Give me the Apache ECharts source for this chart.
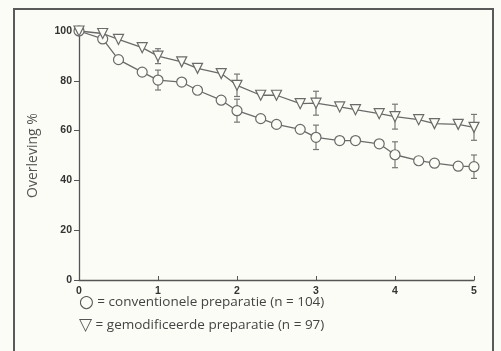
<!DOCTYPE html>
<html>
<head>
<meta charset="utf-8">
<script src="https://cdn.jsdelivr.net/npm/echarts@6/dist/echarts.min.js"></script>
<style>
html,body{margin:0;padding:0;background:#fcfcf6;}
#main{width:501px;height:351px;}
</style>
</head>
<body>
<div id="main"></div>
<script>
// tijd in jaren
var times = [0, 0.3, 0.5, 0.8, 1, 1.3, 1.5, 1.8, 2, 2.3, 2.5, 2.8, 3, 3.3, 3.5, 3.8, 4, 4.3, 4.5, 4.8, 5];
var convValues = [100, 96.8, 88.5, 83.5, 80.3, 79.5, 76.2, 72.2, 68, 64.8, 62.5, 60.5, 57.3, 56, 56, 54.7, 50.3, 47.9, 46.9, 45.7, 45.5];
var modValues = [100, 99, 96.6, 93.3, 89.9, 87.6, 85, 82.9, 78.2, 74.2, 74.2, 70.8, 71, 69.5, 68.4, 66.8, 65.6, 64.4, 62.8, 62.5, 61.3];
// foutbalken
var errTimes = [1, 2, 3, 4, 5];
var convErr = [4, 4.6, 4.9, 5.2, 4.7];
var modErr = [3, 4.5, 4.8, 5, 5.2];
var xTicks = [0, 1, 2, 3, 4, 5];
var yTicks = [0, 20, 40, 60, 80, 100];

var lineColor = '#6a6a6a';

function pairs(xs, ys) {
  var out = [];
  for (var i = 0; i < xs.length; i++) out.push([xs[i], ys[i]]);
  return out;
}

function errData(xs, ys, errs) {
  var out = [];
  for (var i = 0; i < xs.length; i++) {
    var idx = times.indexOf(xs[i]);
    out.push([xs[i], ys[idx] - errs[i], ys[idx] + errs[i]]);
  }
  return out;
}

var renderErr = function (params, api) {
  var x = api.value(0);
  var lo = api.coord([x, api.value(1)]);
  var hi = api.coord([x, api.value(2)]);
  var w = 3;
  var style = {stroke: '#777', lineWidth: 1.2};
  return {
    type: 'group',
    children: [
      {type: 'line', shape: {x1: lo[0], y1: lo[1], x2: hi[0], y2: hi[1]}, style: style},
      {type: 'line', shape: {x1: lo[0] - w, y1: lo[1], x2: lo[0] + w, y2: lo[1]}, style: style},
      {type: 'line', shape: {x1: hi[0] - w, y1: hi[1], x2: hi[0] + w, y2: hi[1]}, style: style}
    ]
  };
};

var legendRich = {
  s: {fontSize: 17, fontFamily: 'DejaVu Sans', fill: '#555', verticalAlign: 'middle'},
  t: {fontSize: 13.5, fontFamily: 'Open Sans', fill: '#444', verticalAlign: 'middle'}
};

var chart = echarts.init(document.getElementById('main'));
chart.setOption({
  backgroundColor: '#fcfcf6',
  animation: false,
  grid: {left: 79, right: 27, top: 31, bottom: 71},
  xAxis: {
    type: 'value',
    min: 0,
    max: 5,
    interval: 1,
    axisLine: {lineStyle: {color: '#555', width: 1.3}},
    axisTick: {inside: true, length: 4, lineStyle: {color: '#555'}},
    axisLabel: {
      color: '#333', fontSize: 10.5, fontWeight: 'bold', margin: 6,
      formatter: function (v) { return xTicks.indexOf(v) >= 0 ? String(v) : ''; }
    },
    splitLine: {show: false}
  },
  yAxis: {
    type: 'value',
    min: 0,
    max: 100,
    interval: 20,
    name: 'Overleving %',
    nameLocation: 'middle',
    nameGap: 39,
    nameTextStyle: {color: '#555', fontSize: 14, fontFamily: 'Open Sans'},
    axisLine: {show: true, lineStyle: {color: '#555', width: 1.3}},
    axisTick: {show: true, length: 5, lineStyle: {color: '#555'}},
    axisLabel: {
      color: '#333', fontSize: 10.5, fontWeight: 'bold', margin: 7,
      formatter: function (v) { return yTicks.indexOf(v) >= 0 ? String(v) : ''; }
    },
    splitLine: {show: false}
  },
  series: [
    {
      name: 'conventionele preparatie',
      type: 'line',
      data: pairs(times, convValues),
      symbol: 'circle',
      symbolSize: 10,
      lineStyle: {color: lineColor, width: 1.3},
      itemStyle: {color: '#fcfcf6', borderColor: lineColor, borderWidth: 1.2},
      z: 3
    },
    {
      name: 'gemodificeerde preparatie',
      type: 'line',
      data: pairs(times, modValues),
      symbol: 'triangle',
      symbolRotate: 180,
      symbolSize: 10,
      lineStyle: {color: lineColor, width: 1.3},
      itemStyle: {color: '#fcfcf6', borderColor: lineColor, borderWidth: 1.2},
      z: 3
    },
    {type: 'custom', renderItem: renderErr, data: errData(errTimes, convValues, convErr), z: 2},
    {type: 'custom', renderItem: renderErr, data: errData(errTimes, modValues, modErr), z: 2}
  ],
  graphic: [
    {
      type: 'rect',
      shape: {x: 14, y: 9, width: 479, height: 380},
      style: {fill: 'none', stroke: '#5a5a5a', lineWidth: 2},
      silent: true
    },
    {
      type: 'text', left: 79, top: 294,
      style: {text: '{s|○}{t| = conventionele preparatie (n = 104)}', rich: legendRich}
    },
    {
      type: 'text', left: 79, top: 317,
      style: {text: '{s|▽}{t| = gemodificeerde preparatie (n = 97)}', rich: legendRich}
    }
  ]
});
</script>
</body>
</html>
